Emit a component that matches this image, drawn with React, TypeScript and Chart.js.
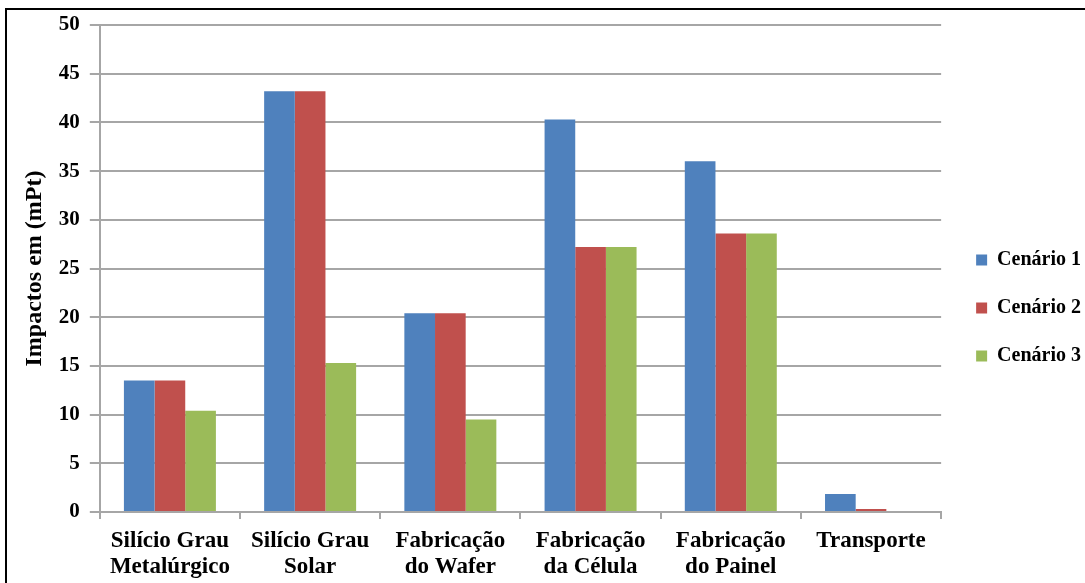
import React, { useEffect, useRef } from "react";
import { Chart, registerables } from "chart.js";

Chart.register(...registerables);

// ---- data ----
const categories: (string | string[])[] = [
  ["Silício Grau", "Metalúrgico"],
  ["Silício Grau", "Solar"],
  ["Fabricação", "do Wafer"],
  ["Fabricação", "da Célula"],
  ["Fabricação", "do Painel"],
  "Transporte",
];
const seriesNames = ["Cenário 1", "Cenário 2", "Cenário 3"];
const cenario1 = [13.5, 43.2, 20.4, 40.3, 36.0, 1.85];
const cenario2 = [13.5, 43.2, 20.4, 27.2, 28.6, 0.3];
const cenario3 = [10.4, 15.3, 9.5, 27.2, 28.6, 0];
const seriesColors = ["#4F81BD", "#C0504D", "#9BBB59"];
const yMin = 0;
const yMax = 50;
const yStep = 5;
const yAxisTitle = "Impactos em (mPt)";

const FONT = '"Liberation Serif", "Times New Roman", serif';
const GRAY = "#A6A6A6";

const legendNudge = {
  id: "legendNudge",
  afterLayout(chart: any) {
    const lg = chart.legend;
    if (!lg) return;
    const pad = lg.options.labels.padding;
    const dx = chart.chartArea.right + 35 - (lg.left + pad);
    lg.left += dx;
    lg.right += dx;
    lg.top += 1;
    lg.bottom += 1;
  },
};

export default function App() {
  const ref = useRef<HTMLCanvasElement>(null);

  useEffect(() => {
    const seriesData = [cenario1, cenario2, cenario3];
    const chart = new Chart(ref.current as HTMLCanvasElement, {
      type: "bar",
      data: {
        labels: categories,
        datasets: seriesNames.map((name, i) => ({
          label: name,
          data: seriesData[i],
          backgroundColor: seriesColors[i],
          borderWidth: 0,
          categoryPercentage: 0.656,
          barPercentage: 1,
        })),
      },
      options: {
        animation: false,
        responsive: false,
        devicePixelRatio: 1,
        layout: { padding: { left: 17, top: 25, right: 1, bottom: 3 } },
        plugins: {
          legend: {
            position: "right",
            labels: {
              boxWidth: 11,
              boxHeight: 11,
              padding: 28,
              color: "#000",
              font: { family: FONT, size: 20, weight: "bold" },
            },
          },
          tooltip: { enabled: false },
        },
        scales: {
          x: {
            grid: {
              offset: true,
              drawOnChartArea: false,
              drawTicks: true,
              tickLength: 7,
              color: GRAY,
              lineWidth: 2,
            },
            border: { color: GRAY, width: 2 },
            ticks: {
              color: "#000",
              padding: 9,
              maxRotation: 0,
              autoSkip: false,
              font: { family: FONT, size: 23, weight: "bold", lineHeight: 1.13 },
            },
          },
          y: {
            min: yMin,
            max: yMax,
            ticks: {
              stepSize: yStep,
              padding: 10,
              color: "#000",
              font: { family: FONT, size: 21, weight: "bold" },
            },
            grid: { color: GRAY, lineWidth: 2, tickLength: 10 },
            border: { color: GRAY, width: 2 },
            title: {
              display: true,
              text: yAxisTitle,
              color: "#000",
              padding: { top: 3, bottom: 0 },
              font: { family: FONT, size: 24, weight: "bold" },
            },
          },
        },
      } as any,
      plugins: [legendNudge],
    });
    return () => chart.destroy();
  }, []);

  return (
    <div
      style={{
        position: "fixed",
        left: 0,
        top: 0,
        right: 0,
        bottom: 0,
        overflow: "hidden",
        background: "#fff",
      }}
    >
      <canvas
        ref={ref}
        width={1085}
        height={592}
        style={{ position: "absolute", left: 0, top: 0 }}
      />
      <div
        style={{
          position: "absolute",
          left: 5,
          top: 8,
          width: 1200,
          height: 700,
          border: "2px solid #000",
          pointerEvents: "none",
        }}
      />
    </div>
  );
}
